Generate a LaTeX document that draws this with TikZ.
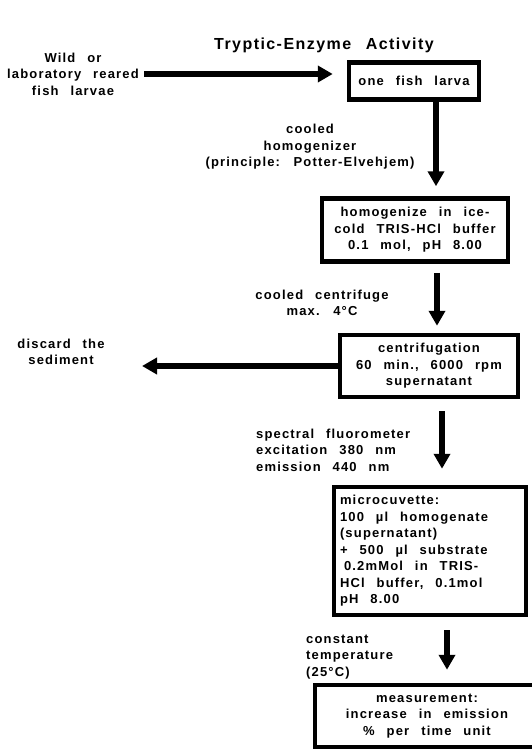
\documentclass[tikz,border=0pt]{standalone}
\usepackage{fontspec}
\setmainfont{Liberation Sans}[LetterSpace=9, WordSpace=2.5]
\usetikzlibrary{arrows.meta}

\begin{document}
\begin{tikzpicture}[x=1pt, y=-1pt,
    stage/.style={draw, line width=4.5pt, inner sep=0pt, align=center, font=\bfseries\fontsize{13}{16.5}\selectfont},
    note/.style={inner sep=0pt, font=\bfseries\fontsize{13}{16.5}\selectfont},
    flow/.style={line width=6pt, -{Triangle[length=15pt, width=16pt]}}]
    \useasboundingbox (0,0) rectangle (531,749);

    % Title
    \node[font=\bfseries\fontsize{16}{18}\selectfont] (title) at (324,45) {Tryptic-Enzyme Activity};

    % Larvae
    \node[note, align=center] (wild) at (73,74) {Wild or\\laboratory reared\\fish larvae};
    \node[stage, minimum width=130pt, minimum height=37pt] (larva) at (414,81) {one fish larva};
    \draw[flow, shorten >=14pt] ([xshift=5pt]wild.east) -- (wild.east -| larva.west);

    % Homogenizer
    \node[note, align=center] (homlabel) at (310,147) {cooled\\homogenizer\\(principle: Potter-Elvehjem)};
    \node[stage, minimum width=186pt, minimum height=63pt] (homog) at (415,230) {homogenize in ice-\\cold TRIS-HCl buffer\\0.1 mol, pH 8.00};
    \draw[flow] ([xshift=22pt]larva.south) -- ([xshift=21pt, yshift=10pt]homog.north);

    % Centrifuge
    \node[note, align=center] (cenlabel) at (322,303) {cooled centrifuge\\max. 4°C};
    \node[stage, minimum width=178pt, minimum height=62pt] (centrif) at (429,366) {centrifugation\\60 min., 6000 rpm\\supernatant};
    \draw[flow] ([xshift=22pt, yshift=-9pt]homog.south) -- ([xshift=8pt, yshift=7pt]centrif.north);

    % Sediment
    \node[note, align=center] (discard) at (61,352) {discard the\\sediment};
    \coordinate (sedend) at (142,363);
    \draw[flow] (centrif.west) -- (centrif.west -| sedend);

    % Fluorometer
    \node[note, align=left, anchor=west] (fluolabel) at (256,450) {spectral fluorometer\\excitation 380 nm\\emission 440 nm};
    \node[stage, align=flush left, inner xsep=6pt, text width=180pt, minimum height=128pt] (cuvette) at (430,551) {microcuvette:\\100 µl homogenate\\(supernatant)\\+ 500 µl substrate\\\hspace*{4pt}0.2mMol in TRIS-\\HCl buffer, 0.1mol\\pH 8.00};
    \draw[flow] ([xshift=13pt, yshift=-12pt]centrif.south) -- ([xshift=12pt, yshift=16pt]cuvette.north);

    % Measurement
    \node[stage, minimum width=224pt, minimum height=62pt] (measure) at (427,716) {measurement:\\increase in emission\\\% per time unit};
    \node[note, align=left, anchor=west] (templabel) at (306,657) {constant\\temperature\\(25°C)};
    \draw[flow] ([xshift=17pt, yshift=-13pt]cuvette.south) -- ([xshift=20pt, yshift=13pt]measure.north);
\end{tikzpicture}
\end{document}
